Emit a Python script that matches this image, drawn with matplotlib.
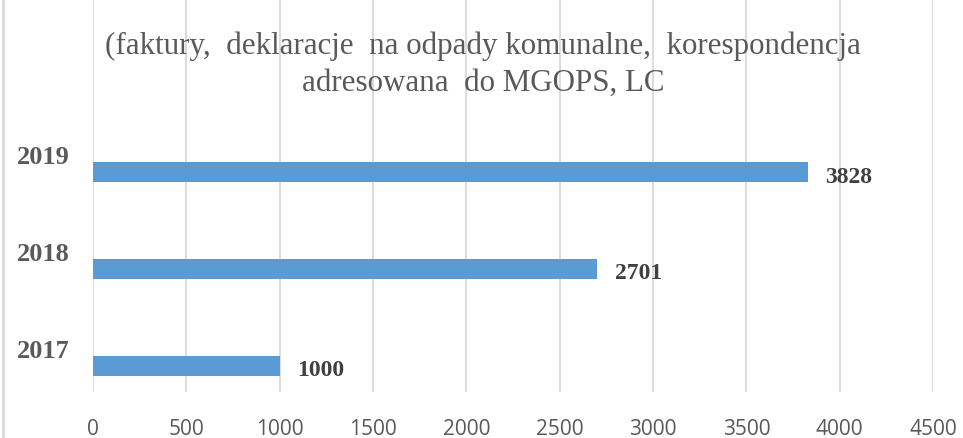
import matplotlib.pyplot as plt
from matplotlib.lines import Line2D

# dane
years = ['2017', '2018', '2019']
values = [1000, 2701, 3828]
title = '(faktury,  deklaracje  na odpady komunalne,  korespondencja\nadresowana  do MGOPS, LC'
x_ticks = [0, 500, 1000, 1500, 2000, 2500, 3000, 3500, 4000, 4500]

serif = ['Liberation Serif', 'DejaVu Serif']
grey = '#595959'

fig = plt.figure(figsize=(9.63, 4.39), dpi=100)
ax = fig.add_axes([0.0966, 0.1048, 0.8723, 0.8952])

pos = list(range(len(years)))
bar_pos = [p - 0.186 for p in pos]
ax.barh(bar_pos, values, height=0.2, color='#5b9bd5', zorder=3)

for y, v in zip(bar_pos, values):
    ax.text(v + 95, y - 0.04, str(v), ha='left', va='center',
            fontsize=17, fontweight='bold', family=serif, color='#404040')

ax.set_xlim(0, 4500)
ax.set_ylim(-0.454, 3.6)
ax.set_xticks(x_ticks)
ax.set_xticklabels([str(t) for t in x_ticks], family=['Open Sans', 'DejaVu Sans'],
                   fontsize=15, color=grey)
ax.set_yticks(pos)
ax.set_yticklabels(years, family=serif, fontsize=19, fontweight='bold', color=grey)
ax.tick_params(axis='x', length=0, pad=19)
ax.tick_params(axis='y', length=0, pad=17)
ax.grid(axis='x', color='#d9d9d9', linewidth=1.3, zorder=0)
for s in ax.spines.values():
    s.set_visible(False)

fig.text(483 / 963, 1 - 65 / 439, title, ha='center', va='center',
         fontsize=22.3, family=serif, color=grey, linespacing=1.35, zorder=4)

# ramka z lewej
fig.add_artist(Line2D([2.5 / 963, 2.5 / 963], [0, 1], transform=fig.transFigure,
                      color='#d9d9d9', linewidth=2))

plt.savefig('out.png', dpi=100)
